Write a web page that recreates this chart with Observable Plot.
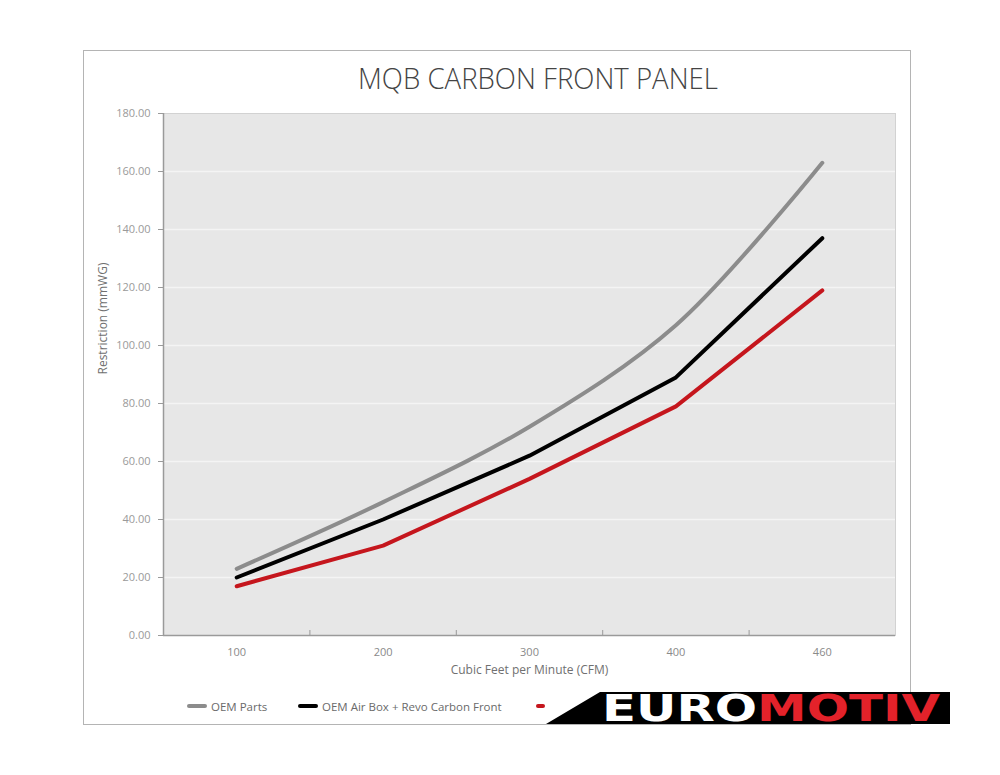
<!DOCTYPE html>
<html>
<head>
<meta charset="utf-8">
<script src="https://cdn.jsdelivr.net/npm/d3@7"></script>
<script src="https://cdn.jsdelivr.net/npm/@observablehq/plot@0.6"></script>
<style>
  html, body { margin: 0; padding: 0; background: #fff; }
  #wrap { position: relative; width: 1000px; height: 775px; overflow: hidden; font-family: "Open Sans", "Liberation Sans", sans-serif; }
  #frame { position: absolute; left: 83px; top: 50px; width: 826px; height: 673px; border: 1px solid #b4b4b4; box-sizing: content-box; }
  #chart { position: absolute; left: 0; top: 0; }
  #title { position: absolute; left: 0; top: 0; }
  #legend { position: absolute; left: 0; top: 697px; width: 1000px; height: 18px; font-size: 11.5px; color: #6a6a6a; font-family: "Open Sans", sans-serif; }
  .item { position: absolute; top: 0; display: flex; align-items: center; height: 18px; white-space: nowrap; }
  .sw { width: 20px; height: 4px; border-radius: 2px; margin-right: 4px; }
  #logo { position: absolute; left: 0; top: 0; }
</style>
</head>
<body>
<div id="wrap">
  <div id="frame"></div>
  <div id="chart"></div>
  <svg id="title" width="1000" height="110">
    <text x="538" y="89" text-anchor="middle" font-family="Open Sans, sans-serif" font-weight="300" font-size="30" fill="#444" textLength="360" lengthAdjust="spacingAndGlyphs">MQB CARBON FRONT PANEL</text>
  </svg>
  <div id="legend"></div>
  <svg id="logo" width="1000" height="775" style="pointer-events:none">
    <polygon points="546,724 600,692 950,692 950,724" fill="#000"/>
    <text x="602" y="721" font-family="DejaVu Sans, sans-serif" font-weight="bold" font-size="37" textLength="338" lengthAdjust="spacingAndGlyphs"><tspan fill="#fff">EURO</tspan><tspan fill="#e3222a">MOTIV</tspan></text>
  </svg>
</div>
<script>
// ---- data ----
const categories = ["100", "200", "300", "400", "460"];
const oemParts = [23, 46, 72, 107, 163];
const oemAirBoxRevo = [20, 40, 62, 89, 137];
const revoFull = [17, 31, 54, 79, 119];
// third series' legend label is hidden behind the logo in the reference
const seriesNames = ["OEM Parts", "OEM Air Box + Revo Carbon Front", ""];
const seriesColors = ["#8c8c8c", "#000000", "#c5161d"];
const yTicks = [0, 20, 40, 60, 80, 100, 120, 140, 160, 180];
const xLabel = "Cubic Feet per Minute (CFM)";
const yLabel = "Restriction (mmWG)";

const seriesValues = [oemParts, oemAirBoxRevo, revoFull];
const curves = ["catmull-rom", "linear", "linear"];
const legendLeft = [187, 298, 536];
const swatchWidth = [20, 20, 9];
const idx = categories.map((_, i) => i);
const boundaries = idx.slice(1).map(i => i - 0.5);

const lineMarks = seriesValues.map((vals, s) =>
  Plot.line(vals.map((v, i) => ({i, v})), {
    x: "i", y: "v", stroke: seriesColors[s], strokeWidth: 4,
    curve: curves[s], strokeLinecap: "round", strokeLinejoin: "round"
  })
);

const chart = Plot.plot({
  width: 1000,
  height: 775,
  marginLeft: 163,
  marginRight: 105,
  marginTop: 113,
  marginBottom: 140,
  style: { background: "transparent", fontFamily: "'Open Sans', sans-serif", fontSize: "11px" },
  x: { type: "linear", domain: [-0.5, categories.length - 0.5] },
  y: { domain: [yTicks[0], yTicks[yTicks.length - 1]] },
  marks: [
    Plot.frame({ fill: "#e7e7e7", stroke: "#d2d2d2" }),
    Plot.ruleY(yTicks.slice(1, -1), { stroke: "#f4f4f4", strokeWidth: 1.5 }),
    Plot.ruleY([yTicks[0]], { stroke: "#9a9a9a", strokeWidth: 1.5 }),
    Plot.ruleX([-0.5], { stroke: "#9a9a9a", strokeWidth: 1.5 }),
    Plot.axisY(yTicks, { tickFormat: d3.format(".2f"), tickSize: 5, tickPadding: 8, stroke: "#9a9a9a", fill: "#9a9a9a", label: null, fontSize: 11 }),
    Plot.axisX(idx, { tickFormat: i => categories[i], tickSize: 0, tickPadding: 13, fill: "#8a8a8a", label: null, fontSize: 11 }),
    Plot.axisX(boundaries, { tickFormat: () => "", tickSize: -5, stroke: "#9a9a9a", label: null }),
    ...lineMarks,
    Plot.text([yLabel], { frameAnchor: "left", dx: -60, rotate: -90, fill: "#707070", fontSize: 12 }),
    Plot.text([xLabel], { frameAnchor: "bottom", dy: 38, fill: "#707070", fontSize: 12 })
  ]
});
document.getElementById("chart").appendChild(chart);

const legend = document.getElementById("legend");
seriesNames.forEach((name, s) => {
  const it = document.createElement("div");
  it.className = "item";
  it.style.left = legendLeft[s] + "px";
  const sw = document.createElement("div");
  sw.className = "sw";
  sw.style.background = seriesColors[s];
  sw.style.width = swatchWidth[s] + "px";
  it.appendChild(sw);
  if (name) {
    const lab = document.createElement("span");
    lab.textContent = name;
    it.appendChild(lab);
  }
  legend.appendChild(it);
});
</script>
</body>
</html>
